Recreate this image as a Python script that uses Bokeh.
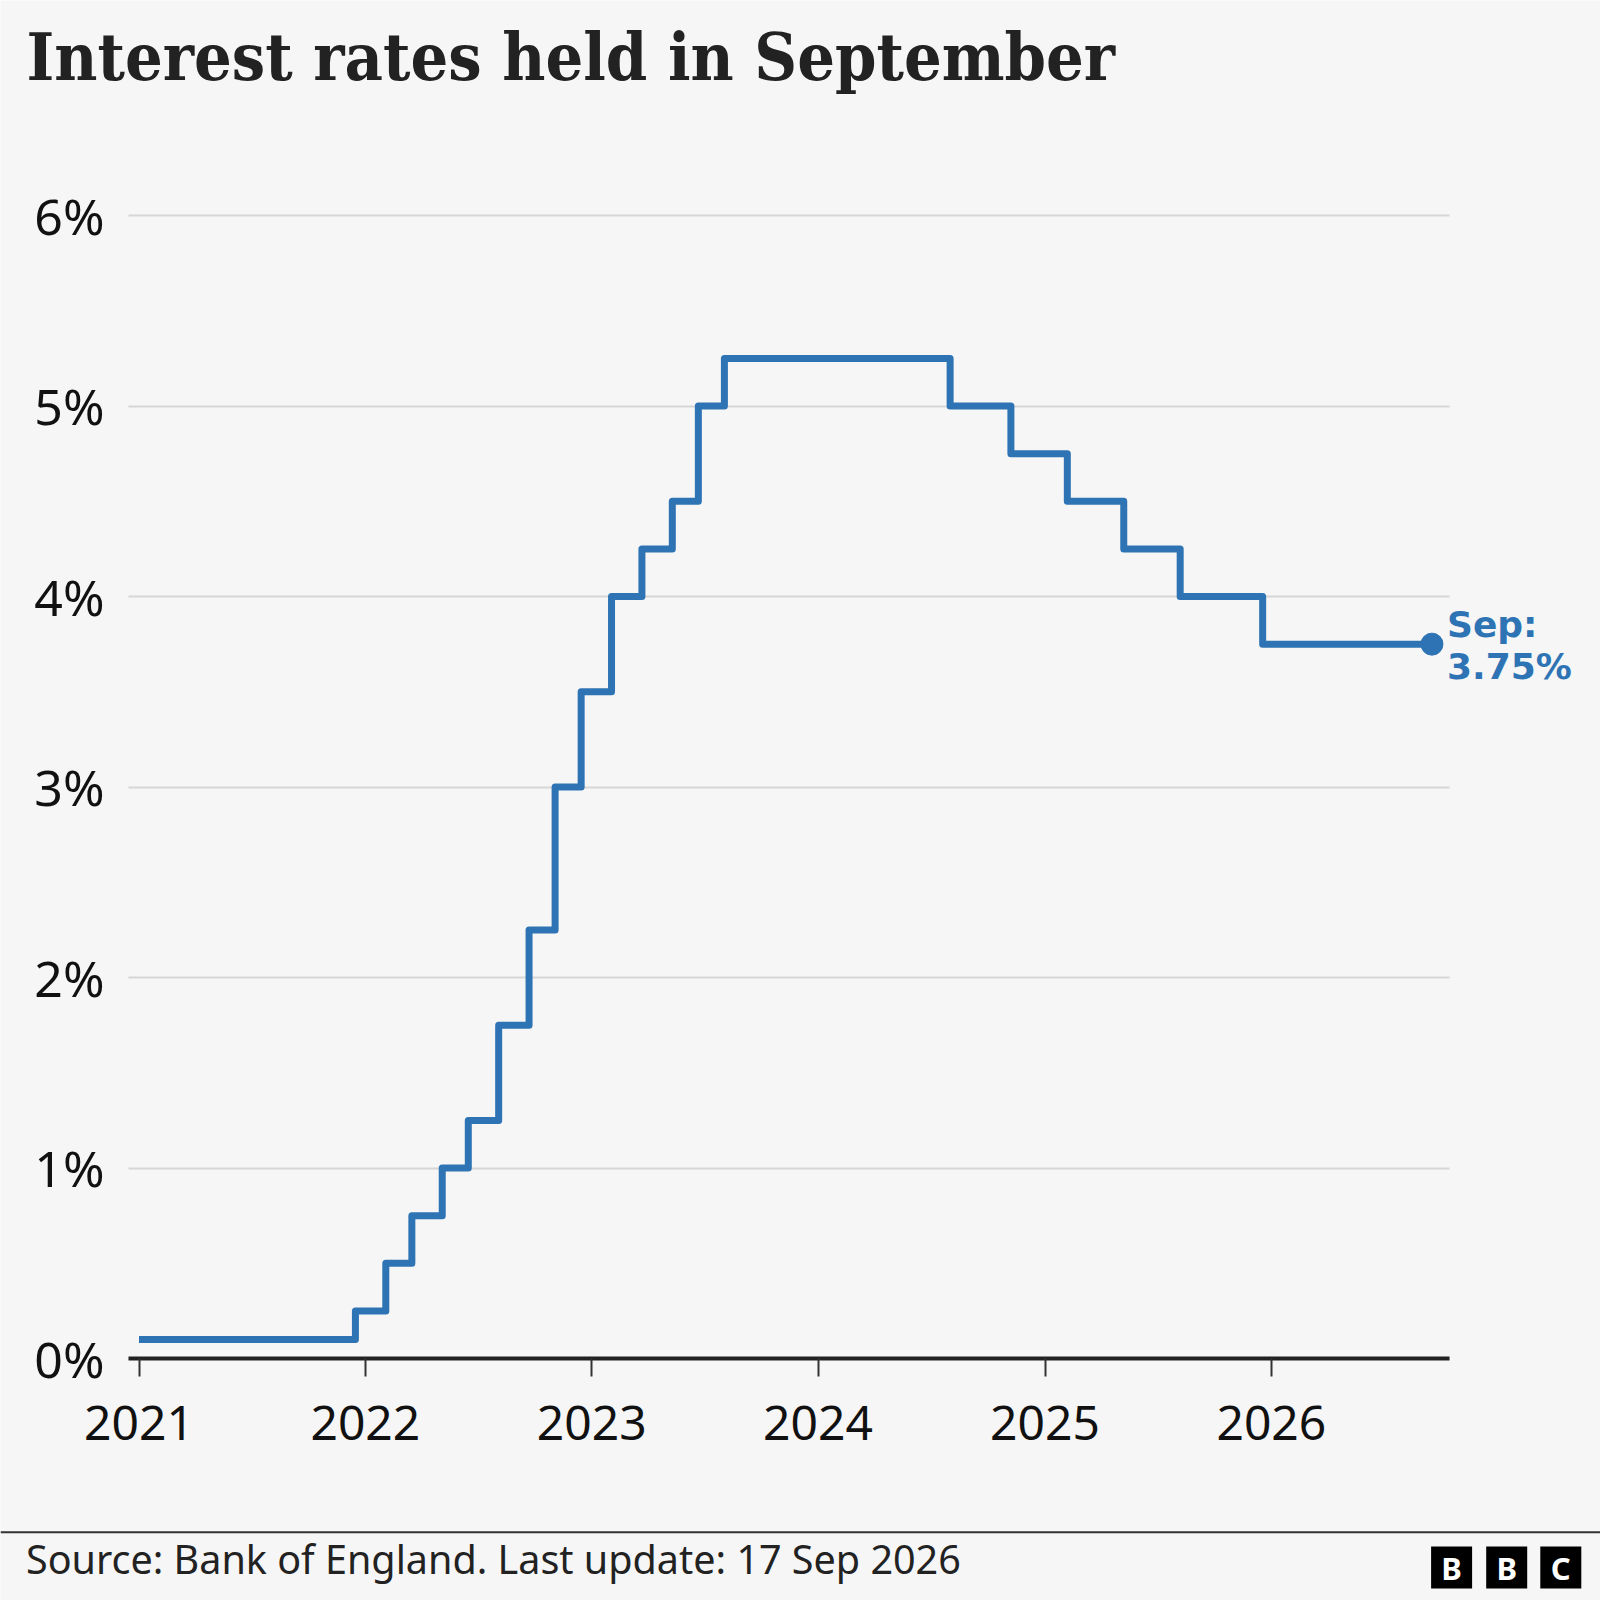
import pandas as pd
from bokeh.plotting import figure
from bokeh.models import Range1d, FixedTicker, CustomJSTickFormatter, Label, Span
from bokeh.core.properties import value
from bokeh.embed import file_html
from bokeh.resources import INLINE

# ---------------- data ----------------
title_text = "Interest rates held in September"
source_text = "Source: Bank of England. Last update: 17 Sep 2026"
change_dates = ["2021-01-01", "2021-12-16", "2022-02-03", "2022-03-17", "2022-05-05",
                "2022-06-16", "2022-08-04", "2022-09-22", "2022-11-03", "2022-12-15",
                "2023-02-02", "2023-03-23", "2023-05-11", "2023-06-22", "2023-08-03",
                "2024-08-01", "2024-11-07", "2025-02-06", "2025-05-08", "2025-08-07",
                "2025-12-18"]
rates = [0.1, 0.25, 0.5, 0.75, 1.0, 1.25, 1.75, 2.25, 3.0, 3.5, 4.0, 4.25, 4.5, 5.0, 5.25,
         5.0, 4.75, 4.5, 4.25, 4.0, 3.75]
last_date = "2026-09-17"
year_ticks = [2021, 2022, 2023, 2024, 2025, 2026]
pct_ticks = [0, 1, 2, 3, 4, 5, 6]
logo_letters = ["B", "B", "C"]

# ---------------- styling ----------------
BLUE = "#2e74b5"
BG = "#f6f6f6"
INK = "#222222"
W = H = 1600

def ms(d):
    return pd.Timestamp(d).value / 1e6

MS_YEAR = 365.25 * 86400 * 1000
T0 = ms("2021-01-01")
PX_YEAR = 226.5
X_T0 = 138.5      # px of 2021 tick
Y_ZERO = 1358.0   # px of 0 %
PX_PCT = 190.5

def X(px):
    return T0 + (px - X_T0) / PX_YEAR * MS_YEAR

def Y(py):
    return (Y_ZERO - py) / PX_PCT

def BASE(py, size):
    # label anchor for a wanted baseline position
    return Y(py - 0.38 * size)

p = figure(width=W, height=H, x_axis_type="datetime",
           x_range=Range1d(X(0), X(W)), y_range=Range1d(Y(H), Y(0)),
           output_backend="svg", toolbar_location=None, title=None,
           min_border=0, background_fill_color=BG, border_fill_color=BG,
           outline_line_color=None)

GRID_L, GRID_R = 128, 1449

# axes
p.xaxis.fixed_location = 0
p.xaxis.bounds = (X(GRID_L), X(GRID_R))
p.xaxis.ticker = FixedTicker(ticks=[ms(f"{y}-01-01") for y in year_ticks])
p.xaxis.formatter = CustomJSTickFormatter(code="return new Date(tick).getUTCFullYear().toString()")
p.xaxis.axis_line_color = INK
p.xaxis.axis_line_width = 4
p.xaxis.major_tick_line_color = "#333333"
p.xaxis.major_tick_line_width = 2
p.xaxis.major_tick_out = 18
p.xaxis.major_tick_in = 0
p.xaxis.minor_tick_line_color = None
p.xaxis.major_label_text_font = "Noto Sans"
p.xaxis.major_label_text_font_size = "48px"
p.xaxis.major_label_text_color = "#111111"
p.xaxis.major_label_standoff = 29

p.yaxis.fixed_location = X(GRID_L)
p.yaxis.ticker = FixedTicker(ticks=pct_ticks)
p.yaxis.formatter = CustomJSTickFormatter(code="return tick + '%'")
p.yaxis.axis_line_color = None
p.yaxis.major_tick_line_color = None
p.yaxis.minor_tick_line_color = None
p.yaxis.major_label_standoff = 18
p.yaxis.major_label_text_font = "Noto Sans"
p.yaxis.major_label_text_font_size = "50px"
p.yaxis.major_label_text_color = "#111111"

p.xgrid.visible = False
p.ygrid.ticker = FixedTicker(ticks=pct_ticks)
p.ygrid.cross_bounds = (X(GRID_L), X(GRID_R))
p.ygrid.grid_line_color = "#d6d6d6"
p.ygrid.grid_line_width = 2

# series
xs = pd.to_datetime(change_dates + [last_date])
ys = rates + [rates[-1]]
p.step(x=xs, y=ys, mode="after", line_color=BLUE, line_width=7, line_join="round")
p.scatter(x=[pd.Timestamp(last_date)], y=[rates[-1]], size=22, color=BLUE)

month_lbl = pd.Timestamp(last_date).strftime("%b") + ":"
val_lbl = f"{rates[-1]:.2f}%"
for txt, yoff in [(month_lbl, 20), (val_lbl, -22)]:
    p.add_layout(Label(x=ms(last_date), y=rates[-1], x_offset=15, y_offset=yoff, text=txt,
                       text_font="DejaVu Sans", text_font_style="bold", text_font_size="36px",
                       text_color=BLUE, text_baseline="alphabetic", text_align="left"))

# title
p.add_layout(Label(x=X(26), y=BASE(81.7, 66), text=title_text, text_font="DejaVu Serif Condensed",
                   text_font_style="bold", text_font_size="66px", text_color=INK,
                   text_baseline="alphabetic", text_align="left"))

# footer
p.add_layout(Span(location=Y(1531.7), dimension="width", line_color="#333333", line_width=2))
p.add_layout(Label(x=X(25.5), y=BASE(1574, 39.5), text=source_text, text_font="Noto Sans",
                   text_font_size="39.5px", text_color=INK, text_baseline="alphabetic",
                   text_align="left"))

# BBC logo blocks
lefts = [1430.6, 1485.7, 1539.8]
p.quad(left=[X(l) for l in lefts], right=[X(l + 41) for l in lefts],
       top=[Y(1546)] * 3, bottom=[Y(1588)] * 3, fill_color="#000000", line_color=None)
p.text(x=[X(l + 20.5) for l in lefts], y=[Y(1567)] * 3, text=logo_letters,
       text_font=value("Noto Sans"), text_font_style="bold", text_font_size="31px",
       text_color="#ffffff", text_align="center", text_baseline="middle")

open("out.html", "w").write(file_html(p, INLINE))
